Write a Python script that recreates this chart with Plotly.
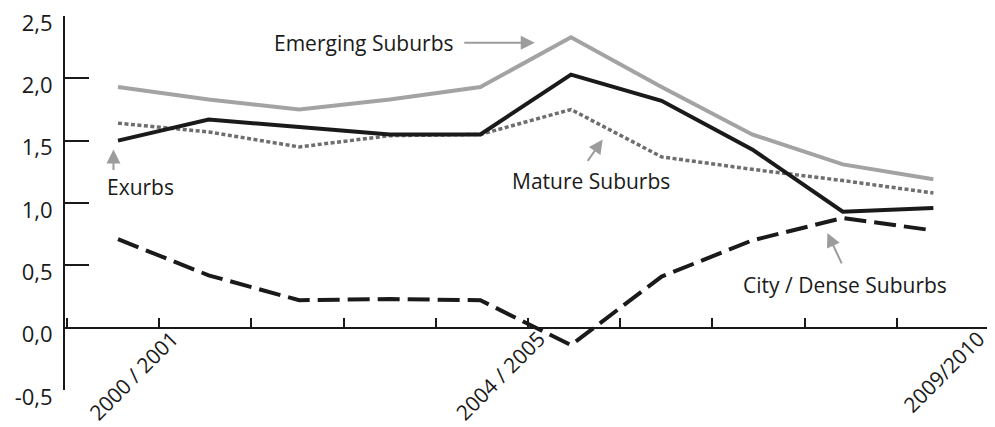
import plotly.graph_objects as go

# ---- data ----
periods = ["2000/2001", "2001/2002", "2002/2003", "2003/2004", "2004/2005",
           "2005/2006", "2006/2007", "2007/2008", "2008/2009", "2009/2010"]
emerging_suburbs = [1.93, 1.83, 1.75, 1.83, 1.93, 2.33, 1.93, 1.55, 1.31, 1.19]
mature_suburbs = [1.64, 1.57, 1.45, 1.54, 1.55, 1.75, 1.37, 1.27, 1.18, 1.08]
exurbs = [1.50, 1.67, 1.61, 1.55, 1.55, 2.03, 1.82, 1.43, 0.93, 0.96]
city_dense = [0.71, 0.42, 0.22, 0.23, 0.22, -0.14, 0.41, 0.70, 0.88, 0.78]

x_tick_labels = ["2000 / 2001", "2004 / 2005", "2009/2010"]
y_tick_values = [-0.5, 0.0, 0.5, 1.0, 1.5, 2.0, 2.5]
y_tick_labels = ["-0,5", "0,0", "0,5", "1,0", "1,5", "2,0", "2,5"]

# axis layout of the original graphic (tick marks and label anchors)
tick_start = -0.563
tick_step = 1.0177
n_tick_marks = 11
tick_positions = [tick_start + k * tick_step for k in range(n_tick_marks)]
label_positions = [0.60, 4.647, 9.50]

xs = list(range(len(periods)))

FONT = "Open Sans"
BLACK = "#1a1a1a"
LIGHT = "#a3a3a3"
MID = "#6e6e6e"
ARROW = "#9c9c9c"

fig = go.Figure()
fig.add_trace(go.Scatter(x=xs, y=emerging_suburbs, mode="lines", name="Emerging Suburbs",
                         line=dict(color=LIGHT, width=4)))
fig.add_trace(go.Scatter(x=xs, y=mature_suburbs, mode="lines", name="Mature Suburbs",
                         line=dict(color=MID, width=3.5, dash="4px,2.5px")))
fig.add_trace(go.Scatter(x=xs, y=exurbs, mode="lines", name="Exurbs",
                         line=dict(color=BLACK, width=4)))
fig.add_trace(go.Scatter(x=xs, y=city_dense, mode="lines", name="City / Dense Suburbs",
                         line=dict(color=BLACK, width=4, dash="22px,8px")))
# invisible helper trace so the label axis is drawn
fig.add_trace(go.Scatter(x=[xs[0]], y=[city_dense[0]], mode="markers", xaxis="x2",
                         marker=dict(opacity=0), hoverinfo="skip", showlegend=False))

ann_font = dict(family=FONT, size=21, color=BLACK)
annotations = [
    # text labels
    dict(x=3.72, y=2.286, text="Emerging Suburbs", showarrow=False, xanchor="right", yanchor="middle", font=ann_font),
    dict(x=-0.14, y=1.13, text="Exurbs", showarrow=False, xanchor="left", yanchor="middle", font=ann_font),
    dict(x=4.33, y=1.175, text="Mature Suburbs", showarrow=False, xanchor="left", yanchor="middle", font=ann_font),
    dict(x=6.88, y=0.345, text="City / Dense Suburbs", showarrow=False, xanchor="left", yanchor="middle", font=ann_font),
    # arrows
    dict(x=4.60, y=2.286, ax=-72, ay=0, text="", showarrow=True, arrowhead=2, arrowsize=1.4,
         arrowwidth=2, arrowcolor=ARROW),
    dict(x=-0.05, y=1.43, ax=0, ay=22, text="", showarrow=True, arrowhead=2, arrowsize=1.4,
         arrowwidth=2, arrowcolor=ARROW),
    dict(x=5.35, y=1.51, ax=-16, ay=23, text="", showarrow=True, arrowhead=2, arrowsize=1.4,
         arrowwidth=2, arrowcolor=ARROW),
    dict(x=7.83, y=0.76, ax=15, ay=32, text="", showarrow=True, arrowhead=2, arrowsize=1.4,
         arrowwidth=2, arrowcolor=ARROW),
]

X_RANGE = [-0.585, 9.636]

# the page body adds an 8px margin, so the figure is sized to fill the rest of the window
fig.update_layout(
    width=987, height=419,
    margin=dict(l=57, r=4, t=8, b=37, autoexpand=False),
    plot_bgcolor="white", paper_bgcolor="white",
    showlegend=False,
    font=dict(family=FONT, color=BLACK),
    annotations=annotations,
    xaxis=dict(
        range=X_RANGE,
        automargin=False,
        showgrid=False, zeroline=False,
        showline=True, linecolor=BLACK, linewidth=2,
        anchor="free", position=1 / 6,
        ticks="inside", ticklen=9, tickwidth=2, tickcolor=BLACK,
        tickvals=tick_positions, showticklabels=False,
    ),
    xaxis2=dict(
        range=X_RANGE,
        overlaying="x",
        side="bottom",
        automargin=False,
        showgrid=False, zeroline=False, showline=False,
        anchor="free", position=1 / 6,
        ticks="",
        tickvals=label_positions, ticktext=x_tick_labels,
        tickangle=-45, tickfont=dict(family=FONT, size=21, color=BLACK),
        ticklabelstandoff=-6,
        ticklabeloverflow="allow",
    ),
    yaxis=dict(
        range=[-0.5, 2.5],
        automargin=False,
        showgrid=False, zeroline=False,
        showline=True, linecolor=BLACK, linewidth=2,
        ticks="inside", ticklen=24, tickwidth=2, tickcolor=BLACK,
        tickvals=y_tick_values, ticktext=y_tick_labels,
        tickfont=dict(family=FONT, size=22, color=BLACK),
        ticklabelstandoff=6,
        ticklabelshift=7,
        ticklabeloverflow="allow",
    ),
)

fig.write_html("out.html")
